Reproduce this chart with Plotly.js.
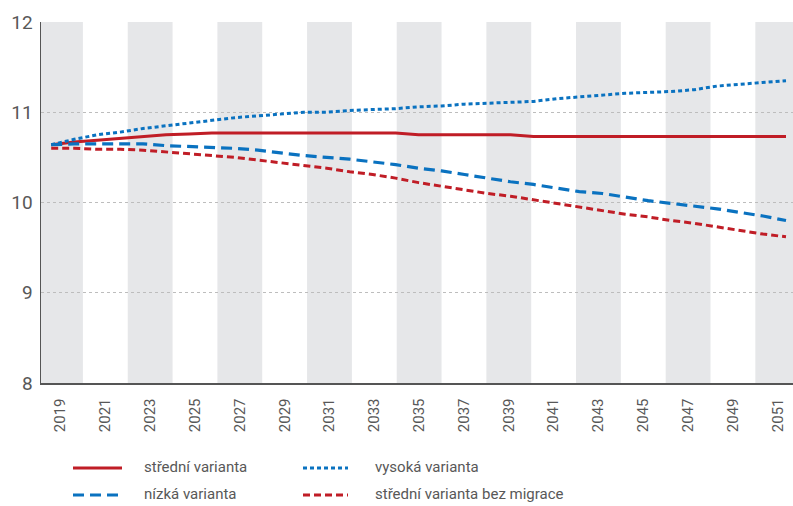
<!DOCTYPE html>
<html>
<head>
<meta charset="utf-8">
<script src="https://cdn.plot.ly/plotly-3.0.1.min.js"></script>
<style>
  html, body { margin: 0; padding: 0; background: #ffffff; }
  #chart { width: 793px; height: 506px; }
</style>
</head>
<body>
<div id="chart"></div>
<script>
// ---- data ----
var years = [2019,2020,2021,2022,2023,2024,2025,2026,2027,2028,2029,2030,2031,2032,2033,2034,2035,
             2036,2037,2038,2039,2040,2041,2042,2043,2044,2045,2046,2047,2048,2049,2050,2051];
var stredni = [10.64,10.67,10.69,10.71,10.73,10.75,10.76,10.77,10.77,10.77,10.77,10.77,10.77,10.77,10.77,10.77,10.75,
               10.75,10.75,10.75,10.75,10.73,10.73,10.73,10.73,10.73,10.73,10.73,10.73,10.73,10.73,10.73,10.73];
var vysoka = [10.64,10.70,10.75,10.78,10.82,10.85,10.88,10.91,10.94,10.96,10.98,11.00,11.00,11.02,11.03,11.04,11.06,
              11.07,11.09,11.10,11.11,11.12,11.15,11.17,11.19,11.21,11.22,11.23,11.25,11.29,11.31,11.33,11.35];
var nizka = [10.64,10.65,10.65,10.65,10.65,10.63,10.62,10.61,10.60,10.58,10.55,10.52,10.50,10.48,10.45,10.42,10.38,
             10.35,10.31,10.27,10.23,10.20,10.16,10.12,10.10,10.06,10.02,9.99,9.96,9.93,9.89,9.85,9.80];
var bezMigrace = [10.60,10.60,10.59,10.59,10.58,10.56,10.54,10.52,10.50,10.47,10.44,10.41,10.38,10.34,10.31,10.27,10.22,
                  10.18,10.14,10.10,10.07,10.03,9.99,9.95,9.91,9.87,9.84,9.80,9.77,9.73,9.69,9.65,9.62];
var bandYears = [2019,2023,2027,2031,2035,2039,2043,2047,2051];
var tickYears = [2019,2021,2023,2025,2027,2029,2031,2033,2035,2037,2039,2041,2043,2045,2047,2049,2051];
var yTicks = [8,9,10,11,12];
var names = ['střední varianta','vysoká varianta','nízká varianta','střední varianta bez migrace'];

// ---- styles ----
var RED = '#c01d26', BLUE = '#0a72c0';
var FONT = 'Roboto, "DejaVu Sans Condensed", sans-serif';
var TXT = '#585858';
var lineStyles = [
  {color: RED, width: 3},
  {color: BLUE, width: 3, dash: '4px,3px'},
  {color: BLUE, width: 3.2, dash: '11px,6px'},
  {color: RED, width: 3, dash: '7px,4px'}
];
var series = [stredni, vysoka, nizka, bezMigrace];

var traces = series.map(function (vals, i) {
  return {x: years, y: vals, name: names[i], type: 'scatter', mode: 'lines',
          xaxis: 'x2', yaxis: 'y', line: lineStyles[i], showlegend: false};
});

var W = 793, H = 506, ML = 41, MR = 0, MT = 22, MB = 123;
var PW = W - ML - MR, PH = H - MT - MB;
function px2paperX(px) { return (px - ML) / PW; }
function px2paperY(py) { return (H - MB - py) / PH; }

var shapes = bandYears.map(function (yr) {
  return {type: 'rect', xref: 'x', yref: 'paper', x0: yr - 1, x1: yr + 1, y0: 0, y1: 1,
          fillcolor: '#e6e7e9', line: {width: 0}, layer: 'below'};
});

// legend (drawn manually: sample line + label), 2 columns x 2 rows
var legendPos = [
  {lx0: 73, lx1: 122, tx: 142, y: 468},   // střední varianta
  {lx0: 303, lx1: 348, tx: 373, y: 468},  // vysoká varianta
  {lx0: 73, lx1: 122, tx: 142, y: 495},   // nízká varianta
  {lx0: 303, lx1: 348, tx: 373, y: 495}   // bez migrace
];
var annotations = [];
legendPos.forEach(function (p, i) {
  var st = lineStyles[i];
  shapes.push({type: 'line', xref: 'paper', yref: 'paper',
               x0: px2paperX(p.lx0), x1: px2paperX(p.lx1), y0: px2paperY(p.y), y1: px2paperY(p.y),
               line: {color: st.color, width: st.width, dash: st.dash || 'solid'}});
  annotations.push({xref: 'paper', yref: 'paper', x: px2paperX(p.tx), y: px2paperY(p.y - 1),
                    xanchor: 'left', yanchor: 'middle', showarrow: false, text: names[i],
                    font: {family: FONT, size: 15, color: TXT}});
});

var layout = {
  width: W, height: H,
  margin: {l: ML, r: MR, t: MT, b: MB},
  paper_bgcolor: '#ffffff', plot_bgcolor: '#ffffff',
  font: {family: FONT, color: TXT},
  showlegend: false,
  xaxis: {
    range: [2018.13, 2051.68], tickvals: tickYears, ticktext: tickYears.map(String),
    tickangle: -90, tickfont: {family: FONT, size: 15, color: TXT},
    showgrid: false, zeroline: false, showline: true, linecolor: '#555555', linewidth: 1.5,
    ticks: '', ticklabelstandoff: 8, fixedrange: true
  },
  xaxis2: {
    range: [2018.556, 2051.305], overlaying: 'x', visible: false, fixedrange: true
  },
  yaxis: {
    range: [8, 12], tickvals: yTicks, ticktext: yTicks.map(String),
    tickfont: {family: FONT, size: 19, color: TXT},
    showgrid: true, gridcolor: '#bdbdbd', gridwidth: 1, griddash: 'dot',
    zeroline: false, showline: true, linecolor: '#555555', linewidth: 1.5,
    ticks: '', ticklabelstandoff: 3, fixedrange: true
  },
  shapes: shapes,
  annotations: annotations
};

Plotly.newPlot('chart', traces, layout, {displayModeBar: false, staticPlot: true});
</script>
</body>
</html>
